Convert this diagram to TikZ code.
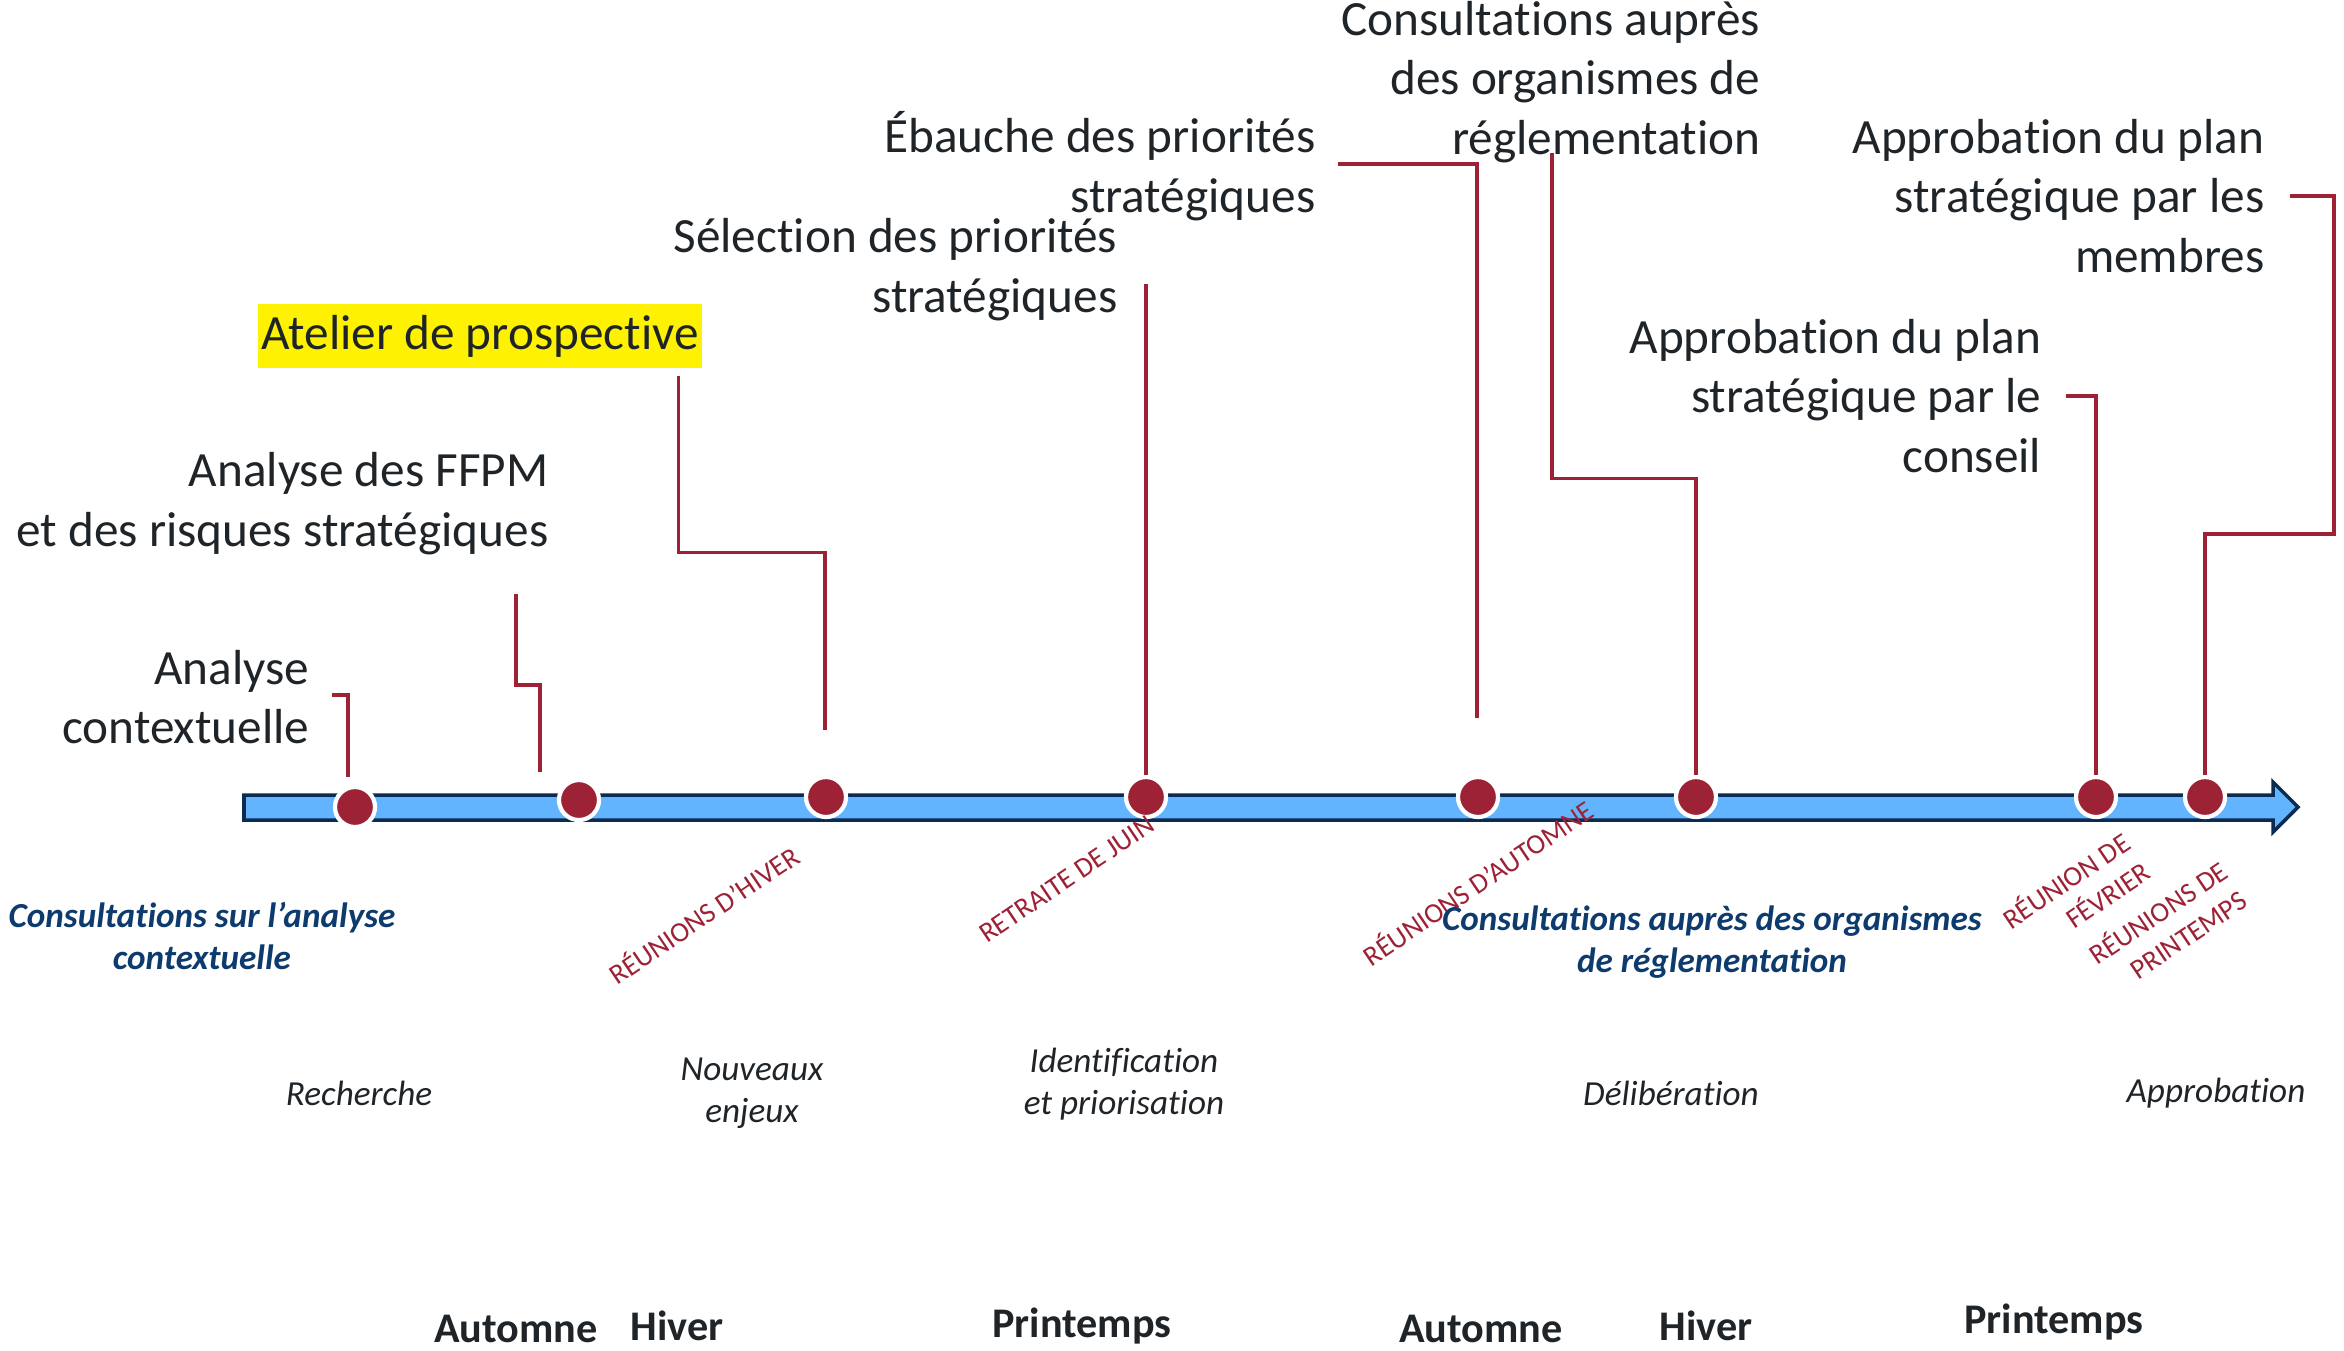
\documentclass[tikz,border=0pt]{standalone}
\usepackage{fontspec}
\setmainfont{Carlito}[Ligatures=NoCommon]
\usetikzlibrary{calc}

\definecolor{bordeaux}{HTML}{9E2236}
\definecolor{ciel}{HTML}{62B4FF}
\definecolor{marine}{HTML}{0C2B50}
\definecolor{encre}{HTML}{0D3B6E}
\definecolor{texte}{HTML}{1F2428}
\definecolor{brume}{HTML}{DCE6ED}

\begin{document}
\begin{tikzpicture}[x=0.01cm, y=-0.01cm]

    \tikzset{jalon/.style={draw=white, line width=1.2pt, fill=bordeaux, shape=circle, minimum size=0.4cm, inner sep=0pt}}
    \tikzset{etape/.style={align=right, anchor=east, inner sep=0pt, text=texte, font=\fontsize{14pt}{17pt}\selectfont}}
    \tikzset{renvoi/.style={draw=bordeaux, line width=0.9pt}}
    \tikzset{reunion/.style={text=bordeaux, inner sep=0pt, rotate=34, font=\fontsize{8pt}{10pt}\selectfont}}
    \tikzset{phase/.style={align=center, inner sep=0pt, text=texte, font=\fontsize{10pt}{12pt}\selectfont\itshape}}
    \tikzset{consult/.style={align=center, inner sep=0pt, text=encre, font=\fontsize{10pt}{12pt}\selectfont\bfseries\itshape}}
    \tikzset{saison/.style={inner sep=0pt, text=texte, font=\fontsize{12pt}{14pt}\selectfont\bfseries}}

    \useasboundingbox (0,0) rectangle (2344,1350);

    % axe du temps
    \draw[fill=ciel, draw=marine, line width=1pt] (244,795) -- (2273,795) -- (2273,782) -- (2298,807)
        -- (2273,832) -- (2273,820) -- (244,820) -- cycle;

    \node[jalon] (d1) at ( 355, 807) {};
    \node[jalon] (d2) at ( 579, 800) {};
    \node[jalon] (d3) at ( 826, 797) {};
    \node[jalon] (d4) at (1146, 797) {};
    \node[jalon] (d5) at (1478, 797) {};
    \node[jalon] (d6) at (1696, 797) {};
    \node[jalon] (d7) at (2096, 797) {};
    \node[jalon] (d8) at (2205, 797) {};

    \node[etape] (ctx) at ( 310, 697) {Analyse\\contextuelle};
    \node[etape] (ffpm) at ( 549, 504) {Analyse des FFPM\\et des risques stratégiques};
    \node[fill=yellow, inner xsep=1pt, inner ysep=3pt, text=texte, font=\fontsize{14pt}{17pt}\selectfont] (atelier) at ( 480, 336) {Atelier de prospective};
    \node[etape] (sel) at (1118, 270) {Sélection des priorités\\stratégiques};
    \node[etape] (ebauche) at (1316, 166) {Ébauche des priorités\\stratégiques};
    \node[etape] (orga) at (1761, 82) {Consultations auprès\\des organismes de\\réglementation};
    \node[etape] (conseil) at (2042, 396) {Approbation du plan\\stratégique par le\\conseil};
    \node[etape] (membres) at (2265, 196) {Approbation du plan\\stratégique par les\\membres};

    \coordinate (e1) at ( 348, 777);
    \coordinate (e2) at ( 540, 772);
    \coordinate (e3) at ( 825, 730);
    \coordinate (e5) at (1477, 718);

    \begin{scope}[every path/.style={renvoi}]
        \draw (ctx.east) ++(22,-2) -| (e1);
        \draw (ffpm.south east) ++(-33,38) |- ++(24,91) -- (e2);
        \draw (atelier.south east) ++(-24,8) -- ++(0,176) -| (e3);
        \draw (sel.east -| d4) ++(0,14) -- (d4.north);
        \draw (ebauche.east) ++(22,-2) -| (e5);
        \draw (orga.south east) ++(-209,-11) -- ++(0,326) -| (d6.north);
        \draw (conseil.east) ++(24,0) -| (d7.north);
        \draw (membres.east) ++(25,0) -| ++(44,338) -| (d8.north);
    \end{scope}

    \node[reunion] (r1) at ( 703, 914) {RÉUNIONS D’HIVER};
    \node[reunion] (r2) at (1067, 879) {RETRAITE DE JUIN};
    \node[reunion] (r3) at (1477, 882) {RÉUNIONS D’AUTOMNE};
    \node[reunion, align=right] (r4) at (2075, 894) {RÉUNION DE\\FÉVRIER};
    \node[reunion, align=right] (r5) at (2167, 926) {RÉUNIONS DE\\PRINTEMPS};

    \shade[left color=white, middle color=brume, right color=white] (7,875) rectangle (441,999);
    \shade[left color=white, middle color=brume, right color=white] (1555,882) rectangle (1816,999);
    \node[consult] (c1) at ( 202, 936) {Consultations sur l’analyse\\contextuelle};
    \node[consult] (c2) at (1712, 942) {Consultations auprès des organismes\\de réglementation};

    \node[phase] (p1) at ( 359,1093) {Recherche};
    \node[phase] (p2) at ( 752,1093) {Nouveaux\\enjeux};
    \node[phase] (p3) at (1124,1084) {Identification\\et priorisation};
    \node[phase] (p4) at (1671,1093) {Délibération};
    \node[phase] (p5) at (2216,1093) {Approbation};

    \node[saison] (s1) at ( 516,1329) {Automne};
    \node[saison] (s2) at ( 677,1326) {Hiver};
    \node[saison] (s3) at (1082,1326) {Printemps};
    \node[saison] (s4) at (1481,1329) {Automne};
    \node[saison] (s5) at (1706,1326) {Hiver};
    \node[saison] (s6) at (2054,1322) {Printemps};

\end{tikzpicture}
\end{document}
